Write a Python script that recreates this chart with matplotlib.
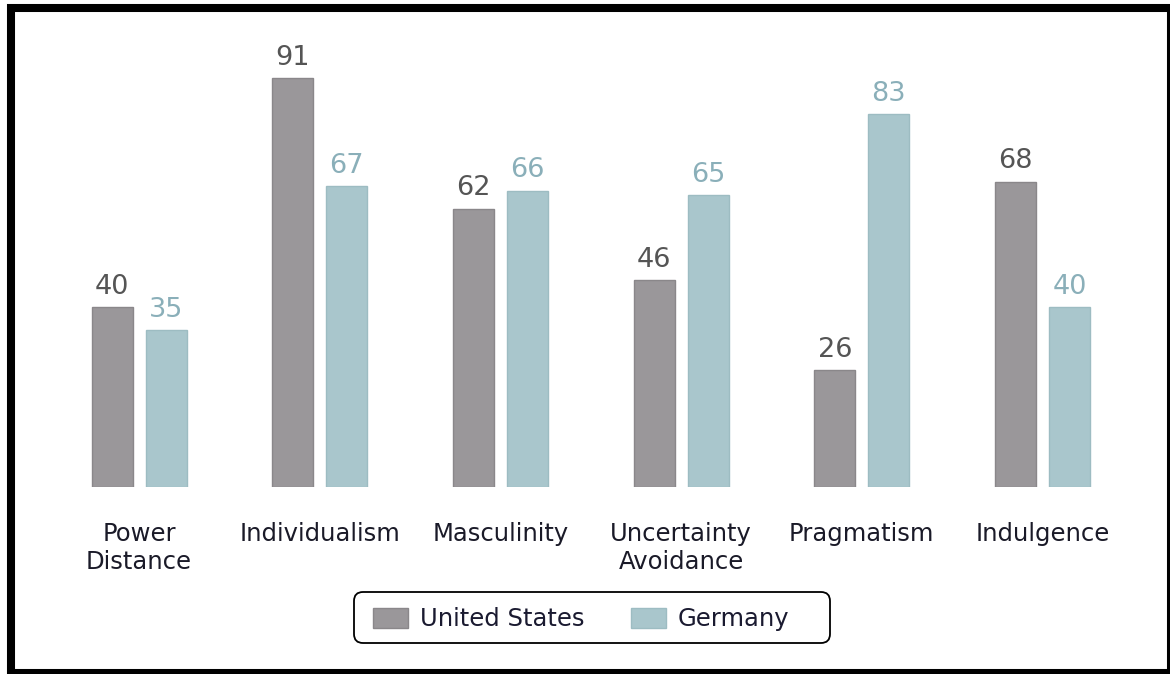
import matplotlib
matplotlib.use("Agg")
import numpy as np
import matplotlib.pyplot as plt
from matplotlib.patches import Patch, Rectangle, FancyBboxPatch
from matplotlib.transforms import IdentityTransform

# Hofstede dimensions, US vs Germany
categories = ["Power\nDistance", "Individualism", "Masculinity",
              "Uncertainty\nAvoidance", "Pragmatism", "Indulgence"]
us_scores = [40, 91, 62, 46, 26, 68]
germany_scores = [35, 67, 66, 65, 83, 40]
series_names = ["United States", "Germany"]

us_color = '#9a979a'
us_edge = '#8a878a'
de_color = '#a9c6cc'
de_edge = '#9dbcc2'
us_text = '#555555'
de_text = '#8aafb9'

W, H = 1170, 674
fig = plt.figure(figsize=(W / 100, H / 100), dpi=100)
fig.patch.set_facecolor('white')

# axes: bars sit on pixel row 487, 4.49 px per unit, groups 180.7 px apart
px_unit = 4.49
step = 180.7
x0 = 139
ax = fig.add_axes([0, (H - 487) / H, 1, 487 / H])
ax.set_xlim(-x0 / step, (W - x0) / step)
ax.set_ylim(0, 487 / px_unit)
ax.axis('off')
ax.set_facecolor('none')

x = np.arange(len(categories))
bw = 41 / step
off = 27 / step

ax.bar(x - off, us_scores, bw, color=us_color, edgecolor=us_edge, linewidth=1)
ax.bar(x + off, germany_scores, bw, color=de_color, edgecolor=de_edge, linewidth=1)

for xi, v in zip(x - off, us_scores):
    ax.annotate(str(v), (xi, v), xytext=(0, 9.5), textcoords='offset points',
                ha='center', va='baseline', fontsize=19.5, color=us_text)
for xi, v in zip(x + off, germany_scores):
    ax.annotate(str(v), (xi, v), xytext=(0, 9.5), textcoords='offset points',
                ha='center', va='baseline', fontsize=19.5, color=de_text)

for xi, lab in zip(x, categories):
    ax.annotate(lab, (xi, 0), xytext=(0, -25), textcoords='offset points',
                ha='center', va='top', fontsize=17.5, color='#1a1a28',
                linespacing=1.2, annotation_clip=False)

handles = [Patch(facecolor=us_color, edgecolor=us_edge, label=series_names[0]),
           Patch(facecolor=de_color, edgecolor=de_edge, label=series_names[1])]
leg = fig.legend(handles=handles, loc='center left', ncol=2,
                 bbox_to_anchor=(373 / W, 1 - 619 / H),
                 fontsize=17.5, handlelength=1.44, handleheight=0.9,
                 handletextpad=0.5, columnspacing=1.9, borderpad=0,
                 borderaxespad=0, frameon=False)
for t in leg.get_texts():
    t.set_color('#1a1a30')

# legend box drawn by hand (pixel coords), wider on the right like the original
fig.patches.append(FancyBboxPatch((354, H - 643), 476, 51,
                                  boxstyle='round,pad=0,rounding_size=9',
                                  transform=IdentityTransform(), fill=False,
                                  edgecolor='black', linewidth=1.3))

# thick black frame round the whole picture
fig.patches.append(Rectangle((11 / W, 1 - 673 / H), (1171 - 11) / W, (673 - 8) / H,
                             transform=fig.transFigure, fill=False,
                             edgecolor='black', linewidth=5.8))

plt.savefig('out.png', dpi=100, facecolor='white')
